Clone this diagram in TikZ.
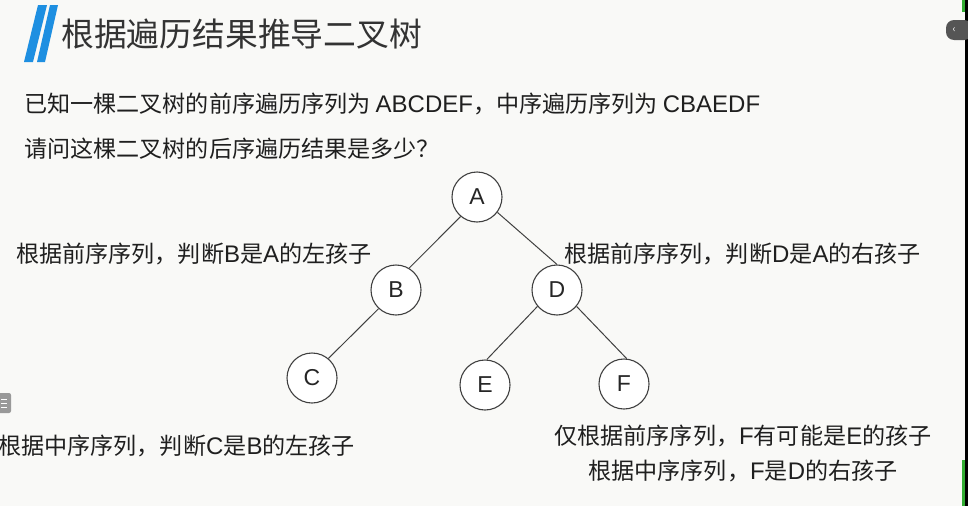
\documentclass[tikz,border=0pt]{standalone}
\usepackage{fontspec}
\setmainfont{Noto Sans CJK SC}
\newfontfamily\latfam{Liberation Sans}
\newcommand{\lat}[1]{{\latfam\fontsize{24}{24}\selectfont #1}}
\begin{document}
\begin{tikzpicture}[x=1pt,y=-1pt,
  treenode/.style={circle,draw=black!75,line width=1.1pt,fill=white,minimum size=50pt,inner sep=0pt,font=\latfam\fontsize{23}{23}\selectfont,text=black!85},
  edge/.style={draw=black!75,line width=1pt},
  txt/.style={anchor=west,inner sep=0pt,font=\fontsize{23.1}{23.1}\selectfont,text=black!88},
  ctxt/.style={anchor=center,inner sep=0pt,font=\fontsize{23.1}{23.1}\selectfont,text=black!88}]
\definecolor{bg}{HTML}{F9F9F7}
\definecolor{slash}{HTML}{1E8FE1}
\definecolor{tabgrey}{HTML}{555555}
\fill[bg] (0,0) rectangle (968,506);
\useasboundingbox (0,0) rectangle (968,506);
% right edge
\fill[black] (965,0) rectangle (968,506);
\fill[green!60!black!80] (962,0) rectangle (965,12);
\fill[green!60!black!80] (962,460) rectangle (965,506);
\fill[tabgrey,rounded corners=8pt] (946,20) rectangle (972,40);
\node[text=white,font=\fontsize{10}{10}\selectfont,inner sep=0pt] (tabarrow) at (954,30) {‹};
% left icon
\fill[black!40,rounded corners=2pt] (-4,393) rectangle (11,413);
\draw[white,line width=1pt] (1,399) -- (7,399) (1,403) -- (7,403) (1,407) -- (7,407);
% title slashes
\fill[slash] (24,62) -- (33,62) -- (47,5) -- (38,5) -- cycle;
\fill[slash] (37,62) -- (45,62) -- (58,5) -- (50,5) -- cycle;
\node[anchor=west,inner sep=0pt,font=\fontsize{32.8}{32.8}\selectfont,text=black!80] (title) at (61,34) {根据遍历结果推导二叉树};
% question
\node[txt] (q1) at (24,104) {已知一棵二叉树的前序遍历序列为\hspace{5pt}\lat{ABCDEF}，中序遍历序列为\hspace{5pt}\lat{CBAEDF}};
\node[txt] (q2) at (24,149) {请问这棵二叉树的后序遍历结果是多少？};
% tree
\node[treenode] (A) at (477,197) {A};
\node[treenode] (B) at (396,290) {B};
\node[treenode] (D) at (557,290) {D};
\node[treenode] (C) at (312,378) {C};
\node[treenode] (E) at (485,385) {E};
\node[treenode] (F) at (624,384) {F};
\draw[edge] (A.-130) -- (B.59);
\draw[edge] (A.-37) -- (D.90);
\draw[edge] (B.-133) -- (C.50);
\draw[edge] (D.-140) -- (E.86);
\draw[edge] (D.-40) -- (F.84);
% labels
\node[txt] (l1) at (16,254) {根据前序序列，判断\lat{B}是\lat{A}的左孩子};
\node[txt] (l2) at (564,254) {根据前序序列，判断\lat{D}是\lat{A}的右孩子};
\node[txt] (l3) at (-2,446) {根据中序序列，判断\lat{C}是\lat{B}的左孩子};
\node[ctxt] (l4) at (743,436) {仅根据前序序列，\lat{F}有可能是\lat{E}的孩子};
\node[ctxt] (l5) at (743,471) {根据中序序列，\lat{F}是\lat{D}的右孩子};
\end{tikzpicture}
\end{document}
